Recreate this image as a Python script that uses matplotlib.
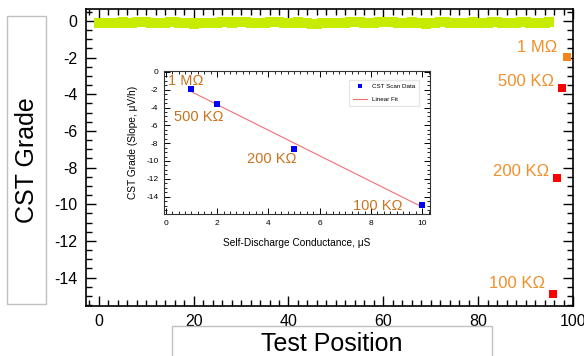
import numpy as np
import matplotlib
matplotlib.use("Agg")
import matplotlib.pyplot as plt
from matplotlib.patches import Rectangle
from matplotlib.ticker import MultipleLocator

plt.rcParams['font.family'] = ['Liberation Sans', 'DejaVu Sans']
plt.rcParams['axes.unicode_minus'] = False

# main scan: test position vs CST grade
scan_x = list(range(0, 96))
scan_y = [-0.14, -0.12, -0.10, -0.11, -0.09, -0.08, -0.10, -0.12, -0.07, -0.05,
          -0.06, -0.09, -0.11, -0.13, -0.10, -0.08, -0.06, -0.09, -0.12, -0.14,
          -0.15, -0.12, -0.10, -0.11, -0.13, -0.10, -0.08, -0.07, -0.09, -0.06,
          -0.04, -0.07, -0.10, -0.12, -0.11, -0.09, -0.06, -0.05, -0.08, -0.11,
          -0.13, -0.10, -0.07, -0.09, -0.12, -0.15, -0.16, -0.13, -0.11, -0.09,
          -0.10, -0.12, -0.09, -0.07, -0.06, -0.08, -0.10, -0.13, -0.11, -0.08,
          -0.05, -0.04, -0.07, -0.10, -0.12, -0.09, -0.08, -0.10, -0.13, -0.15,
          -0.12, -0.10, -0.08, -0.06, -0.09, -0.11, -0.14, -0.12, -0.09, -0.07,
          -0.10, -0.12, -0.11, -0.08, -0.06, -0.09, -0.12, -0.14, -0.11, -0.08,
          -0.07, -0.10, -0.12, -0.11, -0.09, -0.08]

# resistor test points
res_labels = ["1 M\u03a9", "500 K\u03a9", "200 K\u03a9", "100 K\u03a9"]
res_pos = [98.7, 97.7, 96.6, 95.8]
res_grade = [-1.95, -3.65, -8.55, -14.9]
res_colors = ["#f5841f", "#ff0000", "#ff0000", "#ff0000"]

# inset: conductance vs slope
cond = [1, 2, 5, 10]
slope = [-1.95, -3.6, -8.6, -14.9]

# where the resistor names sit (data coords, right/left edge + centre)
main_lab_xy = [(96.6, -1.47), (96.0, -3.32), (94.9, -8.23), (94.1, -14.33)]
ins_lab_xy = [(0.09, -1.05, 'left'), (2.24, -5.03, 'right'),
              (5.09, -9.8, 'right'), (9.23, -15.0, 'right')]

fig = plt.figure(figsize=(5.84, 3.56), dpi=100)
ax = fig.add_axes([86/584, 1-306/356, 487/584, 297/356])

ax.scatter(scan_x, scan_y, marker='s', s=42, color='#c8ec00', linewidths=0, zorder=3)
for xx, yy, c in zip(res_pos, res_grade, res_colors):
    ax.scatter(xx, yy, marker='s', s=34, color=c, linewidths=0, zorder=3)
for (lx, ly), lab in zip(main_lab_xy, res_labels):
    ax.text(lx, ly, lab, color='#f0902a', fontsize=12, ha='right', va='center')

ax.set_xlim(-2.7, 100.0)
ax.set_ylim(-15.55, 0.65)
ax.xaxis.set_major_locator(MultipleLocator(20))
ax.xaxis.set_minor_locator(MultipleLocator(2))
ax.yaxis.set_major_locator(MultipleLocator(2))
ax.yaxis.set_minor_locator(MultipleLocator(0.5))
ax.tick_params(which='both', direction='in', top=True, right=True, labelsize=11.5, pad=6)
ax.tick_params(which='major', length=7, width=1)
ax.tick_params(which='minor', length=4, width=1)
for sp in ax.spines.values():
    sp.set_linewidth(1.2)

# axis label boxes
fig.patches.append(Rectangle((7/584, 1-304/356), 39/584, 288/356, transform=fig.transFigure,
                             fill=False, edgecolor='#c0c0c0', linewidth=1))
fig.patches.append(Rectangle((172/584, -0.05), 320/584, 30/356 + 0.05, transform=fig.transFigure,
                             fill=False, edgecolor='#c0c0c0', linewidth=1))
fig.text(27/584, 1-160/356, "CST Grade", rotation=90, fontsize=18, ha='center', va='center')
fig.text(332/584, 1-344/356, "Test Position", fontsize=18, ha='center', va='center')

# inset
ins = fig.add_axes([164/584, 1-214/356, 266/584, 143/356])
ins.scatter(cond, slope, marker='s', s=14, color='#0000ff', linewidths=0, zorder=3, label='CST Scan Data')
k, b = np.polyfit(cond, slope, 1)
fx = np.array([cond[0], cond[-1]])
ins.plot(fx, k*fx + b, color='#f07070', linewidth=0.8, label='Linear Fit')
for (lx, ly, ha), lab in zip(ins_lab_xy, res_labels):
    ins.text(lx, ly, lab, color='#c8741e', fontsize=10.5, ha=ha, va='center')
ins.set_xlim(-0.07, 10.3)
ins.set_ylim(-15.95, 0.1)
ins.xaxis.set_major_locator(MultipleLocator(2))
ins.xaxis.set_minor_locator(MultipleLocator(0.25))
ins.yaxis.set_major_locator(MultipleLocator(2))
ins.yaxis.set_minor_locator(MultipleLocator(0.5))
ins.tick_params(which='both', direction='in', top=True, right=True, labelsize=6, pad=4)
ins.tick_params(which='major', length=4, width=0.7)
ins.tick_params(which='minor', length=2, width=0.6)
for sp in ins.spines.values():
    sp.set_linewidth(0.8)
    sp.set_color('#333333')
ins.set_xlabel("Self-Discharge Conductance, \u03bcS", fontsize=7.3, labelpad=8)
ins.set_ylabel("CST Grade (Slope, \u03bcV/h)", fontsize=7.3, labelpad=6)
ins.legend(loc='upper right', fontsize=4.5, frameon=True, fancybox=False, edgecolor='#e0e0e0',
           handlelength=2.2, borderpad=0.6, labelspacing=1.2, markerscale=0.7,
           bbox_to_anchor=(0.97, 0.96))

fig.savefig("out.png", dpi=100, facecolor='white')
